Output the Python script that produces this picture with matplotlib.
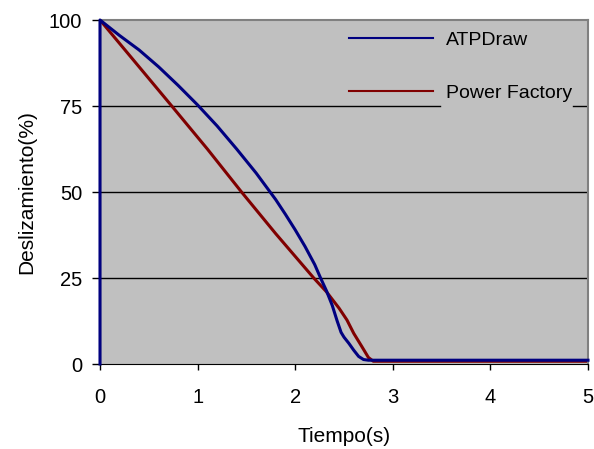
import matplotlib
matplotlib.use("Agg")
import matplotlib.pyplot as plt

# ATPDraw curve (starts with vertical jump at t=0)
t_atp = [0, 0, 0.2, 0.4, 0.6, 0.8, 1.0, 1.2, 1.4, 1.6, 1.8, 1.9, 2.0, 2.1, 2.2, 2.26,
         2.32, 2.38, 2.43, 2.47, 2.5, 2.55, 2.6, 2.65, 2.7, 2.75, 3.0, 4.0, 5.0]
v_atp = [0, 100, 95.5, 91.3, 86.4, 81.0, 75.3, 69.2, 62.5, 55.5, 47.8, 43.5, 39.0, 34.2,
         28.9, 25.0, 21.3, 17.0, 12.5, 9.2, 7.8, 6.0, 4.0, 2.2, 1.3, 1.1, 1.1, 1.1, 1.1]

# Power Factory curve
t_pf = [0, 0.4, 0.735, 1.1, 1.45, 1.8, 2.19, 2.32, 2.45, 2.53, 2.6, 2.68, 2.75, 2.8, 3.5, 5.0]
v_pf = [100, 86.4, 75, 62.5, 50, 37.9, 25, 21, 16.2, 12.8, 8.9, 5.2, 1.9, 0.8, 0.8, 0.8]

x_ticks = [0, 1, 2, 3, 4, 5]
y_ticks = [0, 25, 50, 75, 100]

plt.rcParams['font.family'] = ['Liberation Sans', 'DejaVu Sans']

W, H = 594, 449
fig = plt.figure(figsize=(W / 100, H / 100), dpi=100)
ax = fig.add_axes([100 / W, 1 - 364 / H, 488 / W, 344 / H])
ax.set_facecolor('#c0c0c0')

# gridlines (the 75 line is broken where the legend sits)
for y in [25, 50]:
    ax.axhline(y, color='black', lw=1, zorder=1)
ax.axhline(75, xmin=0, xmax=(440 - 100) / 488, color='black', lw=1, zorder=1)
ax.axhline(75, xmin=(573 - 100) / 488, xmax=1, color='black', lw=1, zorder=1)

ax.plot(t_atp, v_atp, color='#000080', lw=2.2, label='ATPDraw', zorder=3, clip_on=False)
ax.plot(t_pf, v_pf, color='#800000', lw=2.2, label='Power Factory', zorder=2)

ax.set_xlim(0, 5)
ax.set_ylim(0, 100)
ax.set_xticks(x_ticks)
ax.set_yticks(y_ticks)
ax.tick_params(direction='out', width=1, labelsize=14.5)
ax.tick_params(axis='x', length=4.5, pad=13)
ax.tick_params(axis='y', length=5.8, pad=7)

for s in ['left', 'bottom']:
    ax.spines[s].set_color('black')
for s in ['top', 'right']:
    ax.spines[s].set_color('#808080')
    ax.spines[s].set_linewidth(1.5)

ax.set_xlabel('Tiempo(s)', fontsize=15, labelpad=14)
ax.set_ylabel('Deslizamiento(%)', fontsize=15, labelpad=9)

leg = ax.legend(loc='upper left', bbox_to_anchor=(349 / W, 1 - 31 / H),
                bbox_transform=fig.transFigure, frameon=False, fontsize=14,
                handlelength=4.3, handletextpad=0.7, labelspacing=1.85,
                borderpad=0, borderaxespad=0)
for line in leg.get_lines():
    line.set_linewidth(1.5)

fig.savefig('out.png', dpi=100)
